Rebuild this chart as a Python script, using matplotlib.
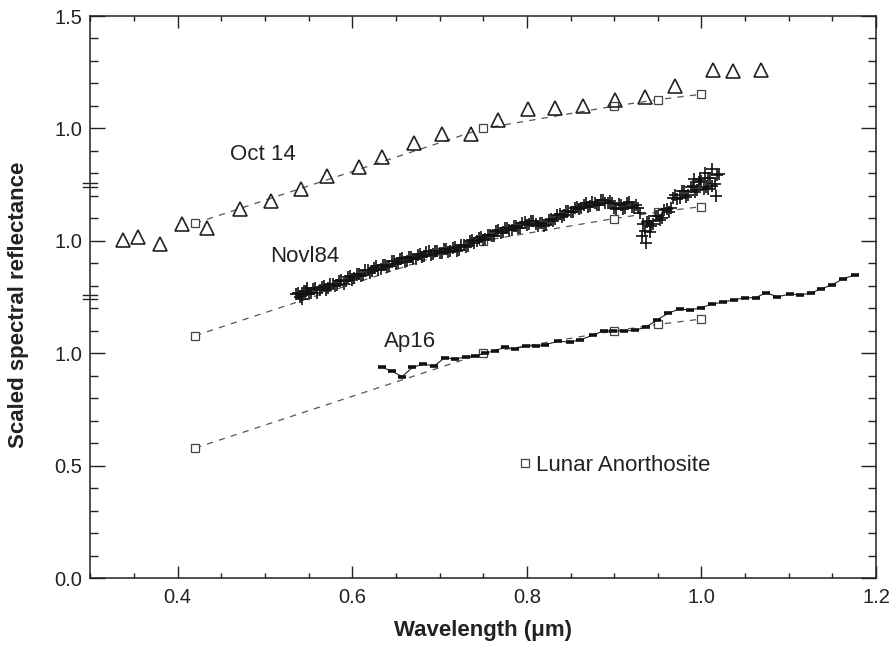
import matplotlib
matplotlib.use("Agg")
import matplotlib.pyplot as plt
import matplotlib.transforms as mtransforms
from matplotlib.lines import Line2D
from matplotlib.ticker import MultipleLocator

plt.rcParams["font.family"] = ["Liberation Sans", "DejaVu Sans"]

# Oct 14 spectrum (triangles), upper tier, axis units
oct14_wl = [0.337, 0.355, 0.380, 0.405, 0.434, 0.471, 0.507, 0.541, 0.571, 0.608,
            0.634, 0.671, 0.703, 0.736, 0.767, 0.801, 0.832, 0.864, 0.901, 0.935,
            0.970, 1.013, 1.036, 1.068]
oct14_y = [1.504, 1.517, 1.486, 1.575, 1.557, 1.641, 1.677, 1.730, 1.788, 1.828,
           1.873, 1.935, 1.975, 1.975, 2.037, 2.086, 2.091, 2.100, 2.126, 2.140,
           2.189, 2.260, 2.255, 2.260]

# Nov184 spectrum (crosses), middle tier: two interleaved sample sets + outliers
nov184_wl = [0.535, 0.540, 0.545, 0.550, 0.555, 0.560, 0.565, 0.570, 0.575, 0.580,
             0.585, 0.590, 0.595, 0.600, 0.605, 0.610, 0.615, 0.620, 0.625, 0.630,
             0.635, 0.640, 0.645, 0.650, 0.655, 0.660, 0.665, 0.670, 0.675, 0.680,
             0.685, 0.690, 0.695, 0.700, 0.705, 0.710, 0.715, 0.720, 0.725, 0.730,
             0.735, 0.740, 0.745, 0.750, 0.755, 0.760, 0.765, 0.770, 0.775, 0.780,
             0.785, 0.790, 0.795, 0.800, 0.805, 0.810, 0.815, 0.820, 0.825, 0.830,
             0.835, 0.840, 0.845, 0.850, 0.855, 0.860, 0.865, 0.870, 0.875, 0.880,
             0.885, 0.890, 0.895, 0.900, 0.905, 0.910, 0.915, 0.920, 0.925, 0.930,
             0.935, 0.940, 0.945, 0.950, 0.955, 0.960, 0.965, 0.970, 0.975, 0.980,
             0.985, 0.990, 0.995, 1.000, 1.005, 1.010, 1.015, 1.020,
             0.5375, 0.5425, 0.5475, 0.5525, 0.5575, 0.5625, 0.5675, 0.5725, 0.5775, 0.5825,
             0.5875, 0.5925, 0.5975, 0.6025, 0.6075, 0.6125, 0.6175, 0.6225, 0.6275, 0.6325,
             0.6375, 0.6425, 0.6475, 0.6525, 0.6575, 0.6625, 0.6675, 0.6725, 0.6775, 0.6825,
             0.6875, 0.6925, 0.6975, 0.7025, 0.7075, 0.7125, 0.7175, 0.7225, 0.7275, 0.7325,
             0.7375, 0.7425, 0.7475, 0.7525, 0.7575, 0.7625, 0.7675, 0.7725, 0.7775, 0.7825,
             0.7875, 0.7925, 0.7975, 0.8025, 0.8075, 0.8125, 0.8175, 0.8225, 0.8275, 0.8325,
             0.8375, 0.8425, 0.8475, 0.8525, 0.8575, 0.8625, 0.8675, 0.8725, 0.8775, 0.8825,
             0.8875, 0.8925, 0.8975, 0.9025, 0.9075, 0.9125, 0.9175, 0.9225, 0.9275, 0.9325,
             0.9375, 0.9425, 0.9475, 0.9525, 0.9575, 0.9625, 0.9675, 0.9725, 0.9775, 0.9825,
             0.9875, 0.9925, 0.9975, 1.0025, 1.0075, 1.0125, 1.0175,
             0.542, 0.548, 0.932, 0.936, 0.941, 0.992, 1.004, 1.012, 1.017, 1.008, 0.998]
nov184_y = [1.262, 1.250, 1.275, 1.262, 1.284, 1.270, 1.296, 1.281, 1.306, 1.298,
            1.322, 1.310, 1.338, 1.326, 1.353, 1.343, 1.368, 1.356, 1.381, 1.371,
            1.393, 1.384, 1.408, 1.396, 1.418, 1.407, 1.428, 1.417, 1.437, 1.428,
            1.448, 1.439, 1.456, 1.446, 1.462, 1.451, 1.469, 1.456, 1.480, 1.474,
            1.497, 1.490, 1.512, 1.505, 1.528, 1.520, 1.543, 1.534, 1.555, 1.546,
            1.567, 1.557, 1.579, 1.569, 1.590, 1.573, 1.578, 1.566, 1.592, 1.588,
            1.613, 1.608, 1.634, 1.626, 1.648, 1.640, 1.661, 1.652, 1.672, 1.659,
            1.680, 1.666, 1.676, 1.645, 1.662, 1.640, 1.668, 1.652, 1.660, 1.625,
            1.545, 1.590, 1.575, 1.612, 1.600, 1.642, 1.648, 1.705, 1.690, 1.722,
            1.705, 1.742, 1.728, 1.765, 1.740, 1.778, 1.752, 1.795,
            1.270, 1.259, 1.275, 1.266, 1.289, 1.283, 1.301, 1.289, 1.308, 1.302,
            1.327, 1.321, 1.342, 1.333, 1.352, 1.346, 1.372, 1.365, 1.386, 1.375,
            1.393, 1.386, 1.410, 1.403, 1.422, 1.410, 1.427, 1.418, 1.441, 1.433,
            1.453, 1.440, 1.455, 1.444, 1.465, 1.455, 1.472, 1.461, 1.482, 1.476,
            1.502, 1.497, 1.518, 1.509, 1.528, 1.522, 1.546, 1.539, 1.559, 1.548,
            1.566, 1.558, 1.582, 1.574, 1.590, 1.568, 1.577, 1.570, 1.598, 1.595,
            1.620, 1.613, 1.634, 1.627, 1.652, 1.645, 1.666, 1.654, 1.670, 1.659,
            1.683, 1.666, 1.670, 1.642, 1.661, 1.646, 1.673, 1.647, 1.644, 1.575,
            1.585, 1.568, 1.610, 1.594, 1.638, 1.630, 1.690, 1.684, 1.722, 1.697,
            1.740, 1.716, 1.763, 1.732, 1.779, 1.745, 1.792,
            1.240, 1.292, 1.520, 1.490, 1.540, 1.775, 1.800, 1.820, 1.700, 1.730, 1.775]

# Ap16 spectrum (bar markers), lower tier
ap16_wl = [0.634, 0.645, 0.657, 0.669, 0.681, 0.694, 0.706, 0.718, 0.730, 0.741,
           0.752, 0.763, 0.775, 0.786, 0.799, 0.810, 0.821, 0.836, 0.849, 0.861,
           0.876, 0.888, 0.899, 0.911, 0.924, 0.936, 0.949, 0.962, 0.975, 0.987,
           0.999, 1.012, 1.025, 1.037, 1.050, 1.062, 1.074, 1.087, 1.101, 1.113,
           1.125, 1.137, 1.149, 1.162, 1.176]
ap16_y = [0.937, 0.921, 0.896, 0.937, 0.951, 0.944, 0.980, 0.974, 0.984, 0.988,
          1.000, 1.011, 1.026, 1.020, 1.032, 1.032, 1.038, 1.053, 1.050, 1.059,
          1.081, 1.100, 1.099, 1.099, 1.102, 1.115, 1.148, 1.178, 1.197, 1.192,
          1.202, 1.218, 1.228, 1.237, 1.247, 1.247, 1.269, 1.251, 1.263, 1.260,
          1.266, 1.287, 1.302, 1.331, 1.348]

# Lunar anorthosite reference, repeated on each tier
anorth_wl = [0.42, 0.75, 0.90, 0.95, 1.00]
anorth_refl = [0.578, 1.000, 1.099, 1.128, 1.152]
tier_offsets = [0.0, 0.5, 1.0]

ytick_pos = [0.0, 0.5, 1.0, 1.5, 2.0, 2.5]
ytick_labels = ["0.0", "0.5", "1.0", "1.0", "1.0", "1.5"]
break_levels = [1.25, 1.75]

INK = "#222222"

fig = plt.figure(figsize=(8.94, 6.48), dpi=100)
ax = fig.add_axes([0.1011, 0.108, 0.8788, 0.8673])

for off in tier_offsets:
    ax.plot(anorth_wl, [v + off for v in anorth_refl], linestyle=(0, (5, 5)),
            color="#555555", lw=0.9, marker="s", ms=5.5, mfc="white",
            mec="#444444", mew=0.9, zorder=2)

ax.plot(oct14_wl, oct14_y, linestyle="none", marker="^", ms=10,
        mfc="none", mec=INK, mew=1.2, zorder=3)
ax.plot(nov184_wl, nov184_y, linestyle="none", marker="+", ms=8,
        mec="#111111", mew=1.2, zorder=3)
ax.plot(ap16_wl, ap16_y, color=INK, lw=0.8, marker="_", ms=6,
        mew=2.6, mec="#111111", zorder=3)

ax.text(0.460, 1.882, "Oct 14", fontsize=16, color=INK, va="center")
ax.text(0.5057, 1.428, "Novl84", fontsize=16, color=INK, va="center")
ax.text(0.636, 1.050, "Ap16", fontsize=16, color=INK, va="center")

handle = Line2D([], [], linestyle="none", marker="s", ms=5.5, mfc="white",
                mec="#444444", mew=0.9)
ax.legend([handle], ["Lunar Anorthosite"], loc="center left",
          bbox_to_anchor=(0.546, 0.201), frameon=False, fontsize=16,
          handlelength=0.55, handletextpad=0.22, borderpad=0, borderaxespad=0,
          labelcolor=INK)

ax.set_xlim(0.3, 1.2)
ax.set_ylim(0.0, 2.5)
ax.xaxis.set_major_locator(MultipleLocator(0.2))
ax.xaxis.set_minor_locator(MultipleLocator(0.05))
ax.set_yticks(ytick_pos)
ax.set_yticklabels(ytick_labels)
ax.yaxis.set_minor_locator(MultipleLocator(0.1))

ax.tick_params(which="both", direction="in", top=True, right=True,
               colors=INK, labelsize=14.5, width=1.0)
ax.tick_params(axis="x", which="major", length=8.5, pad=7)
ax.tick_params(axis="x", which="minor", length=3.8)
ax.tick_params(axis="y", which="major", length=11, pad=6)
ax.tick_params(axis="y", which="minor", length=5.5)

for sp in ax.spines.values():
    sp.set_color(INK)
    sp.set_linewidth(1.1)

# axis-break marks on the left spine
trans = mtransforms.blended_transform_factory(ax.transAxes, ax.transData)
for lvl in break_levels:
    for d in (-0.009, 0.009):
        ax.plot([-0.009, 0.009], [lvl + d, lvl + d], transform=trans,
                color=INK, lw=1.0, clip_on=False)

ax.set_xlabel("Wavelength (\u03bcm)", fontsize=16, fontweight="bold", color=INK)
ax.set_ylabel("Scaled spectral reflectance", fontsize=16, fontweight="bold",
              color=INK)
ax.xaxis.set_label_coords(0.5, -0.075)
ax.yaxis.set_label_coords(-0.078, 0.486)

fig.savefig("out.png", dpi=100, facecolor="white")
